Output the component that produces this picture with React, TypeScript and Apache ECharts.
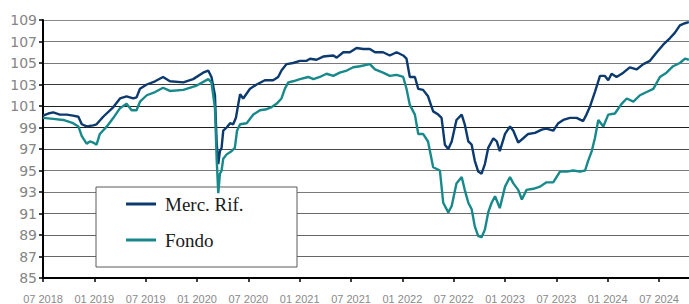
import React, { useEffect, useRef } from "react";
import * as echarts from "echarts";

const seriesNames = ["Merc. Rif.", "Fondo"];

const mercDates = [
  "2018-07-01","2018-07-20","2018-08-07","2018-08-31","2018-09-24","2018-10-17","2018-11-05","2018-11-17","2018-12-04","2018-12-28",
  "2019-01-09","2019-02-02","2019-03-08","2019-04-01","2019-04-24","2019-05-18","2019-05-30","2019-06-11","2019-07-05","2019-08-04",
  "2019-09-02","2019-09-26","2019-11-13","2019-12-18","2020-01-23","2020-02-10","2020-02-21","2020-03-04","2020-03-10","2020-03-16",
  "2020-03-22","2020-03-28","2020-04-03","2020-04-15","2020-04-27","2020-05-08","2020-05-18","2020-05-26","2020-06-02","2020-06-13",
  "2020-07-07","2020-07-31","2020-08-30","2020-09-28","2020-10-16","2020-10-28","2020-11-15","2020-12-08","2021-01-02","2021-01-26",
  "2021-02-07","2021-02-28","2021-03-24","2021-04-29","2021-05-11","2021-06-04","2021-06-27","2021-07-21","2021-08-14","2021-09-07",
  "2021-09-25","2021-10-24","2021-11-17","2021-12-11","2022-01-04","2022-01-16","2022-01-28","2022-02-14","2022-02-25","2022-03-14",
  "2022-04-01","2022-04-19","2022-05-07","2022-05-19","2022-05-31","2022-06-12","2022-06-24","2022-07-11","2022-07-30","2022-08-10",
  "2022-08-23","2022-09-04","2022-09-15","2022-09-27","2022-10-09","2022-10-21","2022-11-02","2022-11-20","2022-12-02","2022-12-13",
  "2023-01-01","2023-01-19","2023-01-31","2023-02-16","2023-03-05","2023-03-23","2023-04-16","2023-05-10","2023-05-27","2023-06-20",
  "2023-07-08","2023-07-26","2023-08-19","2023-09-12","2023-10-05","2023-10-17","2023-10-29","2023-11-16","2023-12-04","2023-12-22",
  "2024-01-03","2024-01-15","2024-02-02","2024-02-25","2024-03-19","2024-04-12","2024-05-06","2024-05-30","2024-06-23","2024-07-16",
  "2024-08-09","2024-08-27","2024-09-14","2024-10-02","2024-10-16"
];
const mercValues = [
  100.1,100.3,100.4,100.2,100.2,100.1,100.0,99.3,99.1,99.2,
  99.3,100.0,100.9,101.7,101.9,101.7,101.8,102.6,103.0,103.3,
  103.7,103.3,103.2,103.5,104.1,104.3,103.7,102.0,97.7,95.6,
  96.8,97.1,98.7,99.0,99.4,99.3,99.9,101.1,102.1,101.7,
  102.6,103.0,103.4,103.4,103.7,104.3,104.9,105.0,105.2,105.2,
  105.4,105.3,105.6,105.7,105.5,106.0,106.0,106.4,106.3,106.3,
  106.0,106.0,105.7,106.0,105.7,105.4,103.7,103.7,102.6,102.5,
  101.9,100.5,100.2,99.9,97.4,97.0,97.7,99.7,100.2,99.3,
  97.7,97.4,95.9,94.9,94.7,95.6,97.1,98.0,97.7,96.8,
  98.4,99.1,98.7,97.6,98.0,98.4,98.5,98.8,98.9,98.7,
  99.4,99.7,99.9,99.9,99.6,100.2,100.9,102.3,103.8,103.8,
  103.4,104.0,103.7,104.1,104.6,104.4,104.9,105.2,106.0,106.7,
  107.3,107.8,108.5,108.7,108.8
];

const fondoDates = [
  "2018-07-01","2018-08-07","2018-09-12","2018-10-17","2018-11-05","2018-11-17","2018-12-04","2018-12-16","2018-12-28","2019-01-09",
  "2019-01-21","2019-02-14","2019-03-08","2019-04-01","2019-04-24","2019-05-12","2019-05-30","2019-06-11","2019-07-05","2019-08-04",
  "2019-09-02","2019-09-26","2019-11-13","2019-12-31","2020-02-10","2020-02-21","2020-03-04","2020-03-10","2020-03-16","2020-03-22",
  "2020-03-28","2020-04-03","2020-04-15","2020-05-02","2020-05-14","2020-05-22","2020-06-02","2020-06-25","2020-07-19","2020-08-12",
  "2020-09-05","2020-09-23","2020-10-10","2020-10-28","2020-11-09","2020-11-21","2020-12-08","2021-01-02","2021-02-01","2021-02-18",
  "2021-03-12","2021-04-05","2021-04-29","2021-05-22","2021-06-16","2021-07-09","2021-08-02","2021-09-07","2021-09-25","2021-10-24",
  "2021-11-17","2021-12-11","2022-01-04","2022-01-16","2022-01-28","2022-02-14","2022-02-25","2022-03-14","2022-04-01","2022-04-19",
  "2022-05-13","2022-05-25","2022-06-12","2022-06-24","2022-07-11","2022-07-30","2022-08-10","2022-08-23","2022-09-04","2022-09-15",
  "2022-09-27","2022-10-09","2022-10-21","2022-11-02","2022-11-14","2022-11-26","2022-12-13","2023-01-01","2023-01-19","2023-01-31",
  "2023-02-16","2023-02-28","2023-03-17","2023-04-10","2023-05-04","2023-05-27","2023-06-20","2023-07-14","2023-08-07","2023-08-31",
  "2023-09-24","2023-10-12","2023-10-23","2023-11-05","2023-11-16","2023-11-28","2023-12-16","2024-01-03","2024-01-27","2024-02-19",
  "2024-03-08","2024-04-01","2024-04-24","2024-05-18","2024-06-11","2024-07-04","2024-07-28","2024-08-21","2024-09-14","2024-10-02",
  "2024-10-16"
];
const fondoValues = [
  99.9,99.8,99.7,99.4,99.1,98.2,97.5,97.7,97.6,97.4,
  98.4,99.1,99.9,100.8,101.2,100.6,100.6,101.4,102.0,102.3,
  102.7,102.4,102.5,102.9,103.5,103.2,100.8,96.2,92.9,94.7,
  95.0,96.1,96.5,96.8,97.1,98.7,99.3,99.4,100.2,100.6,
  100.7,100.9,101.2,101.7,102.6,103.2,103.3,103.5,103.7,103.5,
  103.7,104.0,103.8,104.1,104.3,104.6,104.7,104.9,104.4,104.1,
  103.8,103.9,103.7,102.6,101.1,100.2,98.4,98.4,97.7,95.3,
  95.0,92.0,91.1,91.7,93.8,94.4,93.2,92.0,91.4,89.8,
  88.9,88.8,89.5,91.1,92.0,92.6,91.5,93.5,94.4,93.8,
  93.2,92.3,93.2,93.3,93.5,93.9,93.9,94.9,94.9,95.0,
  94.9,95.0,95.9,96.8,98.0,99.7,99.1,100.2,100.3,101.2,
  101.7,101.4,102.0,102.3,102.6,103.7,104.1,104.7,105.0,105.4,
  105.3
];

const yTickValues = [85, 87, 89, 91, 93, 95, 97, 99, 101, 103, 105, 107, 109];
const gridLineColors = ["#7a7a7a","#666666","#666666","#6a6a6a","#7a7a7a","#7a7a7a","#4a4a4a","#1e1e1e","#1e1e1e","#3a3a3a","#7a7a7a","#7a7a7a","#8a8a8a"];

const START_YEAR = 2018;
const START_MONTH = 7;
const END_MONTHS = 75.5;

function toMonths(d: string): number {
  const [y, mo, day] = d.split("-").map(Number);
  const dim = new Date(y, mo, 0).getDate();
  return (y - START_YEAR) * 12 + (mo - START_MONTH) + (day - 1) / dim;
}

function monthLabel(v: number): string {
  const idx = Math.round(v) + (START_MONTH - 1);
  const year = START_YEAR + Math.floor(idx / 12);
  const month = (idx % 12) + 1;
  return (month < 10 ? "0" : "") + month + " " + year;
}

export default function App() {
  const ref = useRef<HTMLDivElement>(null);
  useEffect(() => {
    if (!ref.current) return;
    const chart = echarts.init(ref.current, undefined, { renderer: "svg" });
    const merc = mercDates.map((d, i) => [toMonths(d), mercValues[i]]);
    const fondo = fondoDates.map((d, i) => [toMonths(d), fondoValues[i]]);
    chart.setOption({
      animation: false,
      backgroundColor: "#ffffff",
      grid: { left: 43, right: 0, top: 20, bottom: 21, containLabel: false },
      xAxis: {
        type: "value",
        min: 0,
        max: END_MONTHS,
        interval: 6,
        axisLine: { show: true, onZero: false, lineStyle: { color: "#000", width: 2 } },
        axisTick: { show: true, length: 4, lineStyle: { color: "#000", width: 1.5 } },
        splitLine: { show: false },
        axisLabel: {
          show: true,
          margin: 15,
          fontFamily: "Liberation Sans",
          fontSize: 11,
          color: "#8a8a8a",
          showMaxLabel: false,
          showMinLabel: true,
          formatter: (v: number) => (Math.abs(v - Math.round(v)) < 0.01 && Math.round(v) % 6 === 0 ? monthLabel(v) : ""),
        },
      },
      yAxis: {
        type: "value",
        min: yTickValues[0],
        max: yTickValues[yTickValues.length - 1],
        interval: 2,
        axisLine: { show: true, lineStyle: { color: "#000", width: 2 } },
        axisTick: { show: true, length: 4, lineStyle: { color: "#000", width: 1.5 } },
        splitLine: { show: true, lineStyle: { color: gridLineColors, width: 1.2 } },
        axisLabel: {
          margin: 6,
          fontFamily: "DejaVu Sans",
          fontSize: 14,
          color: "#858585",
        },
      },
      legend: {
        data: seriesNames,
        orient: "vertical",
        left: 126,
        top: 193,
        padding: 0,
        itemWidth: 30,
        itemHeight: 3,
        itemGap: 14,
        icon: "rect",
        textStyle: {
          fontFamily: "Liberation Serif",
          fontSize: 19,
          color: "#1a1a1a",
          lineHeight: 22,
          padding: [0, 0, 0, 4],
        },
      },
      graphic: [
        {
          type: "rect",
          z: 1,
          shape: { x: 96, y: 187, width: 201, height: 80 },
          style: { fill: "#ffffff", stroke: "#5a5a5a", lineWidth: 1 },
        },
      ],
      series: [
        {
          name: seriesNames[0],
          type: "line",
          data: merc,
          showSymbol: false,
          symbol: "none",
          z: 3,
          lineStyle: { color: "#0c3a6e", width: 2.4 },
          itemStyle: { color: "#0c3a6e" },
        },
        {
          name: seriesNames[1],
          type: "line",
          data: fondo,
          showSymbol: false,
          symbol: "none",
          z: 3,
          lineStyle: { color: "#17898a", width: 2.4 },
          itemStyle: { color: "#17898a" },
        },
      ],
    });
    return () => chart.dispose();
  }, []);
  return (
    <div
      ref={ref}
      style={{ position: "fixed", left: 0, top: 0, width: 689, height: 304, background: "#fff" }}
    />
  );
}
